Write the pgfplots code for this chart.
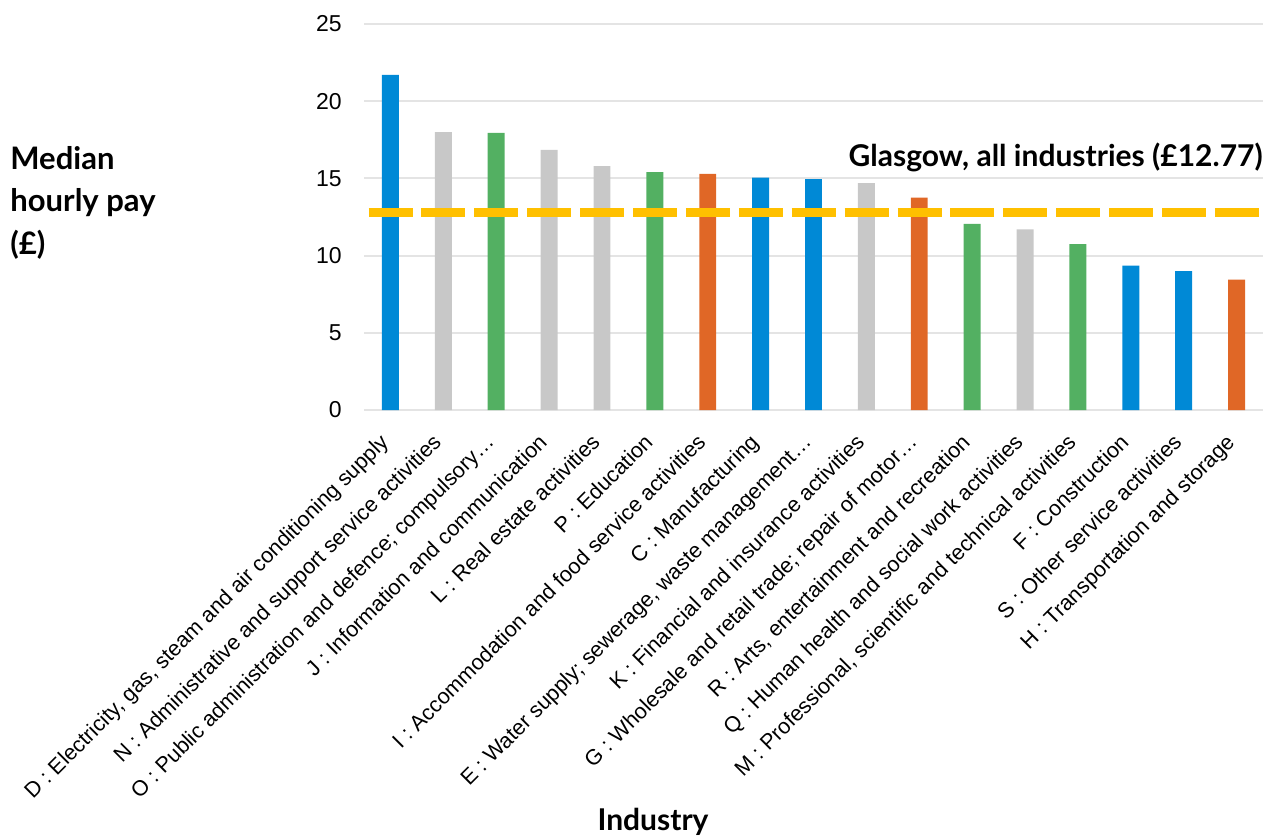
\documentclass[border=0pt]{standalone}
\usepackage{fontspec}
\setmainfont{Liberation Sans}
\newfontfamily\headfont{Lato}
\usepackage{pgfplots}
\pgfplotsset{compat=1.18}

\definecolor{barblue}{RGB}{0,137,214}
\definecolor{bargray}{RGB}{200,200,200}
\definecolor{bargreen}{RGB}{83,176,98}
\definecolor{barorange}{RGB}{224,103,38}
\definecolor{avgyellow}{RGB}{255,192,0}
\definecolor{gridgray}{RGB}{228,228,228}

\begin{document}
\begin{tikzpicture}[x=1pt,y=1pt]
\useasboundingbox (0,0) rectangle (633.5,418.5);
\begin{axis}[
  at={(182pt,213.5pt)}, anchor=south west,
  scale only axis, width=449.5pt, height=193pt,
  xmin=-0.5, xmax=16.5, ymin=0, ymax=25,
  ytick={0,5,10,15,20,25},
  xtick={0,...,16},
  xticklabels={
    {D : Electricity, gas, steam and air conditioning supply},
    {N : Administrative and support service activities},
    {O : Public administration and defence; compulsory…},
    {J : Information and communication},
    {L : Real estate activities},
    {P : Education},
    {I : Accommodation and food service activities},
    {C : Manufacturing},
    {E : Water supply; sewerage, waste management…},
    {K : Financial and insurance activities},
    {G : Wholesale and retail trade; repair of motor…},
    {R : Arts, entertainment and recreation},
    {Q : Human health and social work activities},
    {M : Professional, scientific and technical activities},
    {F : Construction},
    {S : Other service activities},
    {H : Transportation and storage}},
  ybar, bar width=0.32, bar shift=0pt,
  axis line style={draw=none},
  major tick length=0pt,
  ymajorgrids, grid style={line width=1pt, gridgray},
  /pgf/number format/assume math mode=true,
  yticklabel style={font=\fontsize{11.5}{13}\selectfont, inner sep=0pt, xshift=-11pt},
  xticklabel style={rotate=45, anchor=north east, inner sep=0pt,
    font=\fontsize{10.8}{13}\selectfont, xshift=-12pt, yshift=-3.5pt},
  clip=false,
]
% bars grouped by colour, placed at their category index
\addplot[fill=barblue, draw=none] coordinates {(0,21.7) (7,15.05) (8,14.95) (14,9.35) (15,9.0)};
\addplot[fill=bargray, draw=none] coordinates {(1,18.0) (3,16.85) (4,15.8) (9,14.7) (12,11.7)};
\addplot[fill=bargreen, draw=none] coordinates {(2,17.95) (5,15.4) (11,12.05) (13,10.75)};
\addplot[fill=barorange, draw=none] coordinates {(6,15.3) (10,13.75) (16,8.45)};
% Glasgow average across all industries
\addplot[sharp plot, avgyellow, line width=4.5pt, dash pattern=on 22pt off 4.45pt, dash phase=24.2pt]
  coordinates {(-0.5,12.77) (16.5,12.77)};
\node[anchor=base east, inner sep=0pt, font=\headfont\bfseries\fontsize{15}{17}\selectfont]
  at (axis cs:16.5,15.74) {Glasgow, all industries (£12.77)};
\end{axis}
\begin{scope}[every node/.style={anchor=base west, inner sep=0pt, font=\headfont\bfseries\fontsize{15.5}{18}\selectfont}]
\node at (5,334) {Median};
\node at (5,312.5) {hourly pay};
\node at (5,291) {(£)};
\end{scope}
\node[anchor=base, font=\headfont\bfseries\fontsize{15}{18}\selectfont] at (326.5,3.5) {Industry};
\end{tikzpicture}
\end{document}
